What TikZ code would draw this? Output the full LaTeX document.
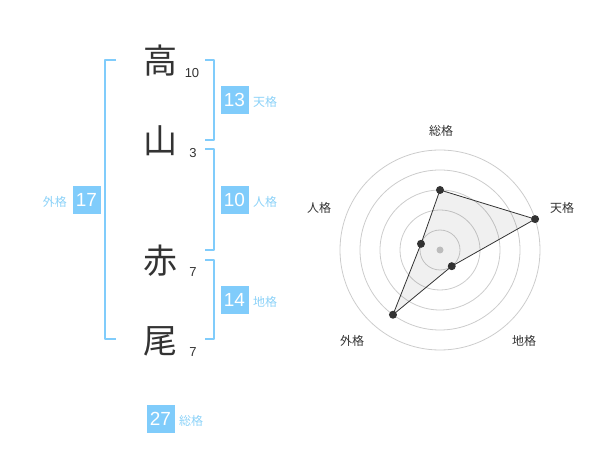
\documentclass[tikz,border=0pt]{standalone}
\usepackage{fontspec}
\setmainfont{Liberation Sans}
\newfontfamily\jpfont{Noto Sans CJK JP}
\usepackage{tikz}
\definecolor{kakublue}{HTML}{80CCFB}
\definecolor{kakulabel}{HTML}{8CD2F8}
\definecolor{kanjigray}{HTML}{333333}
\definecolor{ringgray}{HTML}{CCCCCC}
\definecolor{centergray}{HTML}{C8C8C8}
\tikzset{
	kanji/.style={font=\jpfont\fontsize{34}{34}\selectfont,text=kanjigray,inner sep=0pt},
	kakusu/.style={font=\fontsize{13}{13}\selectfont,text=kanjigray,inner sep=0pt},
	kakubox/.style={fill=kakublue,minimum size=28pt,inner sep=0pt,text=white,font=\fontsize{19}{19}\selectfont},
	kakuname/.style={font=\jpfont\fontsize{12}{12}\selectfont,text=kakulabel,inner sep=0pt},
	bracket/.style={draw=kakublue,line width=2pt,line cap=butt},
	ring/.style={draw=ringgray,line width=0.8pt},
	radardot/.style={circle,fill=kanjigray,minimum size=8pt,inner sep=0pt},
	radarname/.style={font=\jpfont\fontsize{12}{12}\selectfont,text=kanjigray,inner sep=0pt},
}
\begin{document}
\begin{tikzpicture}[line cap=round,line join=round,x=1pt,y=-1pt]
	\useasboundingbox (0,0) rectangle (600,470);
	\node[kanji] (k1) at (160,61) {高};
	\node[kanji] (k2) at (160,141) {山};
	\node[kanji] (k3) at (160,261) {赤};
	\node[kanji] (k4) at (160,341) {尾};
	\node[kakusu] (s1) at (192,73) {10};
	\node[kakusu] (s2) at (193,153) {3};
	\node[kakusu] (s3) at (193,272) {7};
	\node[kakusu] (s4) at (193,352) {7};
	\draw[bracket] (116,60) -- (105,60) -- (105,339) -- (116,339);
	\draw[bracket] (205,60) -- (214,60) -- (214,140) -- (205,140);
	\draw[bracket] (205,149) -- (214,149) -- (214,250) -- (205,250);
	\draw[bracket] (205,260) -- (214,260) -- (214,339) -- (205,339);
	\node[kakubox] (bgai) at (86.5,200) {17};
	\node[kakuname,anchor=east] (ngai) at (67,202) {外格};
	\node[kakubox] (bten) at (234.5,100) {13};
	\node[kakuname,anchor=west] (nten) at (253,102) {天格};
	\node[kakubox] (bjin) at (234.5,200) {10};
	\node[kakuname,anchor=west] (njin) at (253,202) {人格};
	\node[kakubox] (bchi) at (234.5,300) {14};
	\node[kakuname,anchor=west] (nchi) at (253,302) {地格};
	\node[kakubox] (bsou) at (160.5,419) {27};
	\node[kakuname,anchor=west] (nsou) at (179,421) {総格};
	\begin{scope}[shift={(440,250)},yscale=-1]
		\foreach \r in {20,40,...,100}
			\draw[ring] (0,0) circle (\r pt);
		\fill[centergray] (0,0) circle (3.5pt);
		\node[radardot] (rsou) at (90:60) {};
		\node[radardot] (rten) at (18:100) {};
		\node[radardot] (rchi) at (-54:20) {};
		\node[radardot] (rgai) at (234:80) {};
		\node[radardot] (rjin) at (162:20) {};
		\fill[black,fill opacity=0.06] (rsou.center) -- (rten.center) -- (rchi.center) -- (rgai.center) -- (rjin.center) -- cycle;
		\draw[kanjigray,line width=0.8pt] (rsou.center) -- (rten.center) -- (rchi.center) -- (rgai.center) -- (rjin.center) -- cycle;
	\end{scope}
	\node[radarname] (lsou) at (441,131) {総格};
	\node[radarname] (lten) at (562,208) {天格};
	\node[radarname] (ljin) at (319,208) {人格};
	\node[radarname] (lchi) at (524,341) {地格};
	\node[radarname] (lgai) at (352,341) {外格};
\end{tikzpicture}
\end{document}
